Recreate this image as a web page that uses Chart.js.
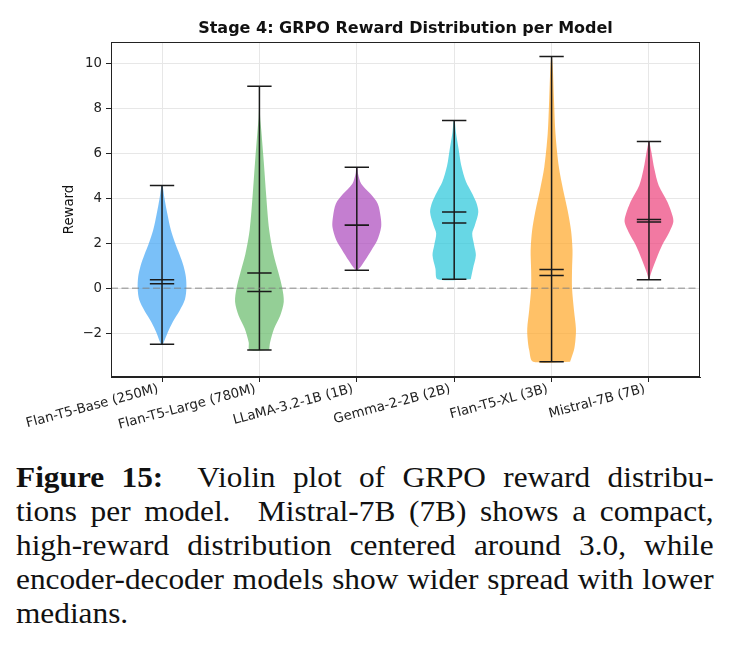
<!DOCTYPE html>
<html>
<head>
<meta charset="utf-8">
<script src="https://cdn.jsdelivr.net/npm/chart.js@4.4.0/dist/chart.umd.min.js"></script>
<style>
  body { margin: 0; background: #fff; width: 729px; height: 646px; overflow: hidden; }
  #wrap { position: absolute; left: 0; top: 0; width: 729px; height: 445px; }
  #caption { position: absolute; left: 16px; top: 460px; width: 646px;
             transform: scaleX(1.08); transform-origin: left top;
             font-family: "Liberation Serif", serif; font-size: 29px; line-height: 34px; color: #111; }
  #caption div { white-space: nowrap; }
  .j { text-align: justify; text-align-last: justify; }
</style>
</head>
<body>
<div id="wrap"><canvas id="myChart" width="729" height="445"></canvas></div>
<div id="caption">
  <div class="j"><b>Figure 15:</b>&nbsp; Violin plot of GRPO reward distribu-</div>
  <div class="j">tions per model. &nbsp;Mistral-7B (7B) shows a compact,</div>
  <div class="j">high-reward distribution centered around 3.0, while</div>
  <div class="j">encoder-decoder models show wider spread with lower</div>
  <div>medians.</div>
</div>
<script>
const models = ['Flan-T5-Base (250M)', 'Flan-T5-Large (780M)', 'LLaMA-3.2-1B (1B)',
                'Gemma-2-2B (2B)', 'Flan-T5-XL (3B)', 'Mistral-7B (7B)'];
const minVals = [-2.49, -2.75, 0.80, 0.40, -3.27, 0.38];
const maxVals = [4.57, 8.98, 5.38, 7.46, 10.30, 6.52];
const means   = [0.38, 0.68, 2.81, 3.39, 0.83, 3.06];
const medians = [0.20, -0.15, 2.80, 2.90, 0.56, 2.94];
const yTicks = [-2, 0, 2, 4, 6, 8, 10];

// density profiles (reward level -> relative width, 1 = widest)
const baseLevels   = [-2.49, -2.0, -1.5, -1.0, -0.5, 0.0, 0.5, 1.0, 1.5, 2.0, 2.6, 3.3, 4.0, 4.57];
const baseDensity  = [0.04, 0.22, 0.44, 0.72, 0.94, 1.0, 0.98, 0.88, 0.72, 0.54, 0.36, 0.22, 0.1, 0.02];
const largeLevels  = [-2.75, -2.4, -1.8, -1.2, -0.6, 0.0, 0.7, 1.5, 2.6, 4.1, 5.6, 7.1, 7.6, 8.3, 8.98];
const largeDensity = [0.40, 0.44, 0.60, 0.86, 1.0, 0.94, 0.78, 0.58, 0.40, 0.28, 0.18, 0.07, 0.03, 0.01, 0.0];
const llamaLevels  = [0.80, 0.95, 1.24, 1.69, 2.13, 2.72, 3.17, 3.76, 4.2, 4.65, 5.09, 5.38];
const llamaDensity = [0.03, 0.16, 0.34, 0.6, 0.84, 1.0, 0.98, 0.86, 0.56, 0.18, 0.05, 0.02];
const gemmaLevels  = [0.40, 0.87, 1.46, 1.91, 2.43, 2.8, 3.39, 3.83, 4.27, 4.72, 5.46, 6.2, 6.94, 7.46];
const gemmaDensity = [0.68, 0.77, 0.89, 0.82, 0.74, 0.85, 0.99, 0.9, 0.71, 0.49, 0.29, 0.18, 0.07, 0.02];
const xlLevels     = [-3.27, -2.75, -2.3, -1.8, -0.98, 0.0, 0.8, 1.69, 2.57, 3.46, 4.35, 5.38, 6.87, 8.34, 9.82, 10.3];
const xlDensity    = [0.76, 0.92, 0.98, 1.0, 0.92, 0.84, 0.84, 0.86, 0.8, 0.66, 0.48, 0.3, 0.16, 0.1, 0.05, 0.01];
const mistralLevels  = [0.38, 0.72, 1.32, 1.91, 2.5, 2.94, 3.24, 3.83, 4.57, 5.31, 6.05, 6.52];
const mistralDensity = [0.01, 0.1, 0.31, 0.54, 0.84, 1.0, 0.96, 0.76, 0.4, 0.22, 0.1, 0.01];

const levels  = [baseLevels, largeLevels, llamaLevels, gemmaLevels, xlLevels, mistralLevels];
const density = [baseDensity, largeDensity, llamaDensity, gemmaDensity, xlDensity, mistralDensity];

const fillColors = ['rgba(66,165,245,0.7)', 'rgba(102,187,106,0.7)', 'rgba(171,71,188,0.7)',
                    'rgba(38,198,218,0.7)', 'rgba(255,167,38,0.7)', 'rgba(236,64,122,0.7)'];

const xMin = 0.476, xMax = 6.524;
const halfWidth = 0.25, capHalf = 0.125;
const tickFont = { family: 'DejaVu Sans', size: 13.3 };

const datasets = [];
models.forEach((m, i) => {
  const pos = i + 1;
  const right = levels[i].map((y, k) => ({ x: pos + density[i][k] * halfWidth, y }));
  const left = levels[i].map((y, k) => ({ x: pos - density[i][k] * halfWidth, y })).reverse();
  datasets.push({
    data: right.concat(left, [right[0]]),
    showLine: true, fill: 'shape', backgroundColor: fillColors[i],
    borderWidth: 0, pointRadius: 0, tension: 0.3, order: 2
  });
  const seg = y => [{ x: pos - capHalf, y }, { x: pos + capHalf, y }, { x: pos, y: null }];
  datasets.push({
    data: [...seg(minVals[i]), ...seg(maxVals[i]), ...seg(means[i]), ...seg(medians[i]),
           { x: pos, y: minVals[i] }, { x: pos, y: maxVals[i] }],
    showLine: true, spanGaps: false, borderColor: '#1a1a1a', borderWidth: 1.5,
    pointRadius: 0, order: 1
  });
});
datasets.push({
  data: [{ x: xMin, y: 0 }, { x: xMax, y: 0 }],
  showLine: true, borderColor: 'rgba(128,128,128,0.6)', borderWidth: 1.5,
  borderDash: [7, 3.5], pointRadius: 0, order: 0
});

const frame = {
  id: 'frame',
  afterDraw(chart) {
    const { ctx, chartArea: a } = chart;
    ctx.save();
    ctx.strokeStyle = '#222';
    ctx.lineWidth = 1;
    ctx.strokeRect(Math.round(a.left) + 0.5, Math.round(a.top) + 0.5,
                   Math.round(a.width) - 1, Math.round(a.height) - 1);
    ctx.restore();
  }
};

new Chart(document.getElementById('myChart'), {
  type: 'scatter',
  data: { datasets },
  plugins: [frame],
  options: {
    responsive: false,
    animation: false,
    layout: { padding: { left: 0, right: 29, top: 0, bottom: 0 } },
    plugins: {
      legend: { display: false },
      tooltip: { enabled: false },
      title: {
        display: true, fullSize: false,
        text: 'Stage 4: GRPO Reward Distribution per Model',
        color: '#111',
        font: { family: 'DejaVu Sans', size: 16, weight: 'bold' },
        padding: { top: 19.4, bottom: 3.4 }
      }
    },
    scales: {
      x: {
        type: 'linear', min: xMin, max: xMax,
        afterBuildTicks: s => { s.ticks = models.map((m, i) => ({ value: i + 1 })); },
        afterFit: s => { s.height = 68; },
        ticks: {
          callback: v => models[v - 1], autoSkip: false,
          minRotation: 15, maxRotation: 15, labelOffset: -4,
          color: '#222', font: tickFont, padding: -1
        },
        grid: { color: '#e7e7e7', tickColor: '#222', tickLength: 5 },
        border: { color: '#222', width: 1 }
      },
      y: {
        min: -3.95, max: 10.95,
        afterBuildTicks: s => { s.ticks = yTicks.map(v => ({ value: v })); },
        afterFit: s => { s.width = 111; },
        ticks: {
          callback: v => String(v).replace('-', '\u2212'),
          color: '#222', font: tickFont, padding: 4
        },
        grid: { color: '#e7e7e7', tickColor: '#222', tickLength: 5 },
        border: { color: '#222', width: 1 },
        title: {
          display: true, text: 'Reward', color: '#111',
          font: tickFont, padding: { top: 62, bottom: 0 }
        }
      }
    }
  }
});
</script>
</body>
</html>
